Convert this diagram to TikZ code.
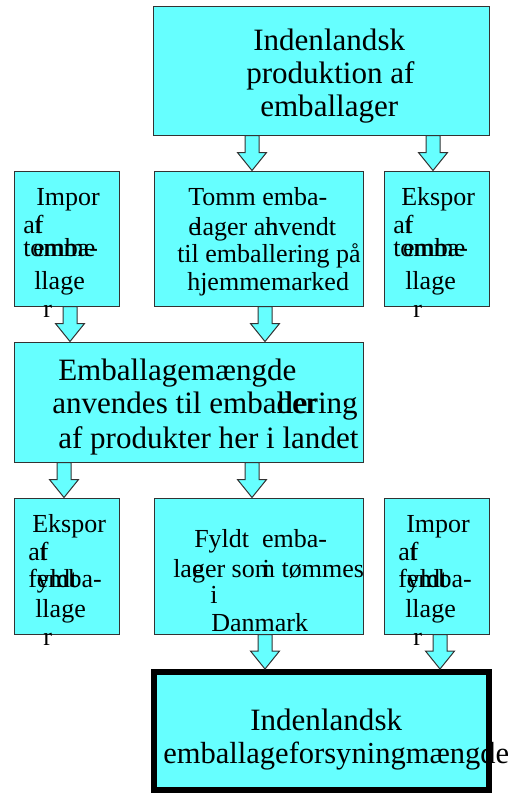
\documentclass[tikz,border=0pt]{standalone}
\usepackage{fontspec}
\IfFontExistsTF{LiberationSerif-Regular.ttf}
  {\setmainfont{LiberationSerif-Regular.ttf}}
  {\setmainfont{Liberation Serif}}
\usepackage{tikz}
\usetikzlibrary{calc,positioning}
\definecolor{cyanfill}{RGB}{102,255,255}

\newcommand{\fatarrow}[3]{%
  \draw[fatarr] let \p1=(#2.south -| #1,0), \p2=(#3.north -| #1,0) in
    (\x1-5.25pt,\y1) -- (\x1+5.25pt,\y1) -- (\x1+5.25pt,\y2+13.5pt)
    -- (\x1+10.9pt,\y2+13.5pt) -- (\x2,\y2) -- (\x1-10.9pt,\y2+13.5pt)
    -- (\x1-5.25pt,\y2+13.5pt) -- cycle;}

\begin{document}
\begin{tikzpicture}[
x=0.75pt, y=-0.75pt,
box/.style={draw=black!80,fill=cyanfill,line width=0.75pt,inner sep=0pt},
big/.style={font=\rmfamily\fontsize{23.3}{28}\selectfont,inner sep=0pt,anchor=base west},
small/.style={font=\rmfamily\fontsize{19.5}{23}\selectfont,inner sep=0pt,anchor=base west},
fatarr/.style={draw=black!80,fill=cyanfill,line width=0.75pt}
]
    \useasboundingbox (0,0) rectangle (515,793);

    % Boxes
    \node[box,minimum width=252pt,minimum height=96.75pt] (prod) at (321,70.5) {};
    \node[box,minimum width=78.75pt,minimum height=101.25pt] (impT) at (66.5,238.5) {};
    \node[box,minimum width=156.75pt,minimum height=101.25pt] (tomm) at (258.5,238.5) {};
    \node[box,minimum width=78.75pt,minimum height=101.25pt] (ekspT) at (436.5,238.5) {};
    \node[box,minimum width=261.75pt,minimum height=90pt] (mgd) at (188.5,402) {};
    \node[box,minimum width=78.75pt,minimum height=102pt] (ekspF) at (66.5,566) {};
    \node[box,minimum width=156.75pt,minimum height=102pt] (fyldt) at (258.5,566) {};
    \node[box,minimum width=78.75pt,minimum height=102pt] (impF) at (436.5,566) {};
    \node[box,draw=none,outer sep=2.25pt,minimum width=251.25pt,minimum height=88.5pt] (forsyn) at (321.5,731) {};

    % Texts
    \node[big] (prod-1) at (253,50) {Indenlandsk};
    \node[big] (prod-2) at (246,83) {produktion af};
    \node[big] (prod-3) at (260,116) {emballager};

    \node[small] (impT-1) at (36,205) {Impor};
    \node[small] (impT-2) at (23,233) {a\rlap{t}f};
    \node[small] (impT-3) at (23,256) {\rlap{tomme}\kern0.38em emba-};
    \node[small] (impT-4) at (34,289) {llage};
    \node[small] (impT-5) at (43,317) {r};

    \node[small] (tomm-1) at (188,205) {Tomm emba-};
    \node[small] (tomm-2) at (188,235) {\rlap{e}\kern0.27em lager a\rlap{h}nvendt};
    \node[small] (tomm-3) at (177,262) {til emballering på};
    \node[small] (tomm-4) at (187,290) {hjemmemarked};

    \node[small] (ekspT-1) at (401,205) {Ekspor};
    \node[small] (ekspT-2) at (393,233) {a\rlap{t}f};
    \node[small] (ekspT-3) at (393,256) {\rlap{tomme}\kern0.38em emba-};
    \node[small] (ekspT-4) at (405,289) {llage};
    \node[small] (ekspT-5) at (413,317) {r};

    \node[big] (mgd-1) at (58,380) {Emballagemængde};
    \node[big] (mgd-2) at (52,413) {anvendes til emba\rlap{der}llering};
    \node[big] (mgd-3) at (58,448) {af produkter her i landet};

    \node[small] (ekspF-1) at (32,532) {Ekspor};
    \node[small] (ekspF-2) at (28,560) {a\rlap{t}f};
    \node[small] (ekspF-3) at (28,587) {\rlap{fyldt}\kern0.33em emba-};
    \node[small] (ekspF-4) at (35,617) {llage};
    \node[small] (ekspF-5) at (43,645) {r};

    \node[small] (fyldt-1) at (194,547) {Fyldt\ \ emba-};
    \node[small] (fyldt-2) at (173,577) {la\rlap{e}ger so\rlap{\kern0.3em i}m tømmes};
    \node[small] (fyldt-3) at (210,603) {i};
    \node[small] (fyldt-4) at (211,631) {Danmark};

    \node[small] (impF-1) at (406,532) {Impor};
    \node[small] (impF-2) at (398,560) {a\rlap{t}f};
    \node[small] (impF-3) at (398,587) {\rlap{fyldt}\kern0.33em emba-};
    \node[small] (impF-4) at (405,617) {llage};
    \node[small] (impF-5) at (413,645) {r};

    \node[big] (forsyn-1) at (250,730) {Indenlandsk};
    \node[big,font=\rmfamily\fontsize{22.9}{28}\selectfont] (forsyn-2) at (163,763) {emballageforsyningmængde};
    \draw[line width=4.5pt] ([shift={(3,-3)}]forsyn.south west) rectangle ([shift={(-3,3)}]forsyn.north east);

    % Arrows
    \fatarrow{252}{prod}{tomm}
    \fatarrow{433}{prod}{ekspT}
    \fatarrow{70}{impT}{mgd}
    \fatarrow{265}{tomm}{mgd}
    \fatarrow{64}{mgd}{ekspF}
    \fatarrow{252}{mgd}{fyldt}
    \fatarrow{265}{fyldt}{forsyn}
    \fatarrow{440}{impF}{forsyn}
\end{tikzpicture}
\end{document}
